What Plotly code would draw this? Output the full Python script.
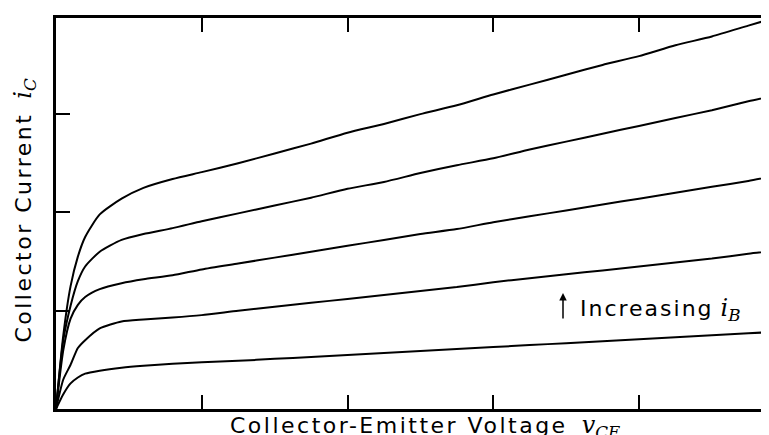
import plotly.graph_objects as go

# Collector-emitter voltage (arbitrary units, tick spacing = 1)
vce = [0, 0.05, 0.1, 0.15, 0.2, 0.3, 0.45, 0.6, 0.8, 1.0, 1.25, 1.5, 1.75, 2.0,
       2.25, 2.5, 2.75, 3.0, 3.25, 3.5, 3.75, 4.0, 4.25, 4.5, 4.75, 5.0]

# Collector current for five increasing base currents (arbitrary units)
ic_ib1 = [0, 0.15, 0.26, 0.32, 0.36, 0.39, 0.42, 0.44, 0.46, 0.475, 0.49, 0.51, 0.53,
          0.55, 0.57, 0.59, 0.61, 0.63, 0.65, 0.67, 0.69, 0.71, 0.73, 0.75, 0.77, 0.79]
ic_ib2 = [0, 0.30, 0.45, 0.62, 0.70, 0.82, 0.89, 0.91, 0.93, 0.955, 1.0, 1.04, 1.08,
          1.12, 1.16, 1.20, 1.24, 1.29, 1.33, 1.37, 1.41, 1.45, 1.49, 1.53, 1.58, 1.62]
ic_ib3 = [0, 0.60, 0.92, 1.06, 1.14, 1.22, 1.28, 1.32, 1.36, 1.42, 1.48, 1.54, 1.60,
          1.66, 1.72, 1.78, 1.83, 1.90, 1.96, 2.02, 2.08, 2.14, 2.20, 2.26, 2.32, 2.39]
ic_ib4 = [0, 0.70, 1.05, 1.30, 1.45, 1.60, 1.72, 1.78, 1.84, 1.91, 1.99, 2.07, 2.15,
          2.24, 2.31, 2.40, 2.48, 2.55, 2.64, 2.72, 2.80, 2.88, 2.96, 3.04, 3.13, 3.21]
ic_ib5 = [0, 0.75, 1.25, 1.55, 1.75, 1.98, 2.14, 2.25, 2.34, 2.41, 2.50, 2.60, 2.70,
          2.81, 2.90, 3.00, 3.09, 3.20, 3.30, 3.40, 3.50, 3.59, 3.70, 3.79, 3.90, 4.01]

x_ticks = [1, 2, 3, 4]
y_ticks = [1, 2, 3]

W, H = 769, 435
L, R, T, B = 48, 0, 10, 34
px_per_x = 145.75
px_per_y = 98.3
x_max = (W - L - R) / px_per_x
y_max = (H - T - B) / px_per_y

fig = go.Figure()
for ic in [ic_ib1, ic_ib2, ic_ib3, ic_ib4, ic_ib5]:
    fig.add_trace(go.Scatter(x=vce, y=ic, mode="lines",
                             line=dict(color="black", width=2, shape="spline", smoothing=0.6),
                             hoverinfo="skip"))

axis_common = dict(showline=True, linecolor="black", linewidth=2.5, ticks="inside",
                   ticklen=14, tickwidth=2, tickcolor="black", showticklabels=False,
                   showgrid=False, zeroline=False)

fig.update_layout(
    width=W, height=H,
    margin=dict(l=L, r=R, t=T, b=B, pad=0),
    paper_bgcolor="white", plot_bgcolor="white",
    showlegend=False,
    xaxis=dict(range=[0, x_max], tickvals=x_ticks, mirror="ticks", **axis_common),
    yaxis=dict(range=[0, y_max], tickvals=y_ticks, mirror=False, **axis_common),
    font=dict(family="DejaVu Sans", color="black", size=22),
)

# right-hand mirrored y ticks (border itself lies just beyond the page edge)
tick_dx = 14 / px_per_x
for yv in y_ticks:
    fig.add_shape(type="line", xref="x", yref="y",
                  x0=x_max - tick_dx + 0.04, x1=x_max, y0=yv, y1=yv,
                  line=dict(color="black", width=2))

sans = "letter-spacing:2.5px"
sans_b = "letter-spacing:2px"
serif = "font-family:'DejaVu Serif';font-size:24px"
fig.add_annotation(
    xref="paper", yref="paper", x=0.512, y=0.0, xanchor="center", yanchor="top",
    text=("<span style=\"" + sans + "\">Collector-Emitter Voltage</span>  "
          "<span style=\"" + serif + "\"><i>v</i><sub><i>CE</i></sub></span>"),
    showarrow=False, font=dict(size=22, family="DejaVu Sans"))
fig.add_annotation(
    xref="paper", yref="paper", x=-0.043, y=0.51, xanchor="center", yanchor="middle",
    textangle=-90,
    text=("<span style=\"" + sans + "\">Collector Current</span>  "
          "<span style=\"" + serif + "\"><i>i</i><sub><i>C</i></sub></span>"),
    showarrow=False, font=dict(size=22, family="DejaVu Sans"))
fig.add_annotation(
    xref="x", yref="y", x=(570 - L) / px_per_x, y=(401 - 301) / px_per_y,
    xanchor="left", yanchor="middle",
    text=("<span style=\"" + sans_b + "\">Increasing</span> "
          "<span style=\"" + serif + "\"><i>i</i><sub><i>B</i></sub></span>"),
    showarrow=False, font=dict(size=22, family="DejaVu Sans"))
fig.add_annotation(
    xref="x", yref="y", x=(555 - L) / px_per_x, y=(401 - 285) / px_per_y,
    ax=0, ay=27, axref="pixel", ayref="pixel", text="", showarrow=True,
    arrowhead=2, arrowsize=1, arrowwidth=1.5, arrowcolor="black")

fig.write_html("out.html")
